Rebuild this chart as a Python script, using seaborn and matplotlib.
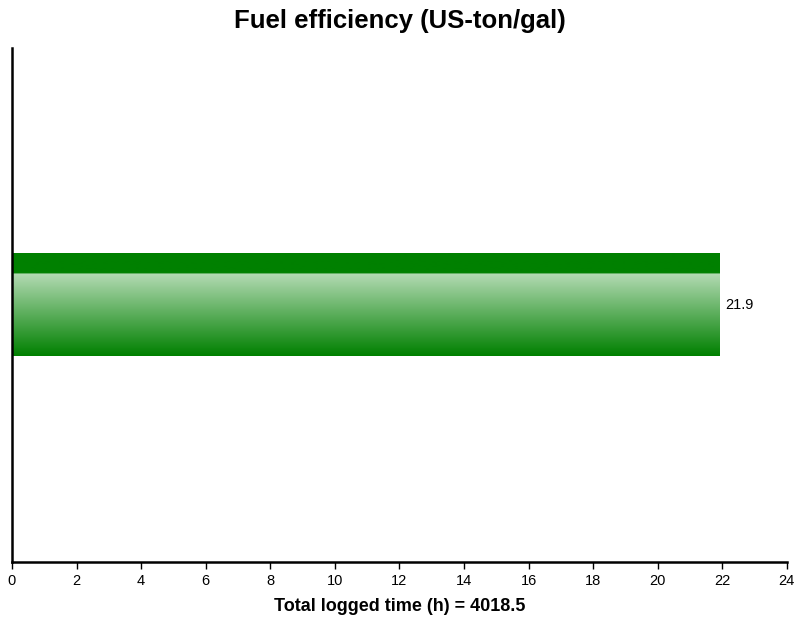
import numpy as np
import pandas as pd
import seaborn as sns
import matplotlib.pyplot as plt
from matplotlib.colors import LinearSegmentedColormap

# данные
categories = ['Fuel efficiency']
values = [21.9]
value_labels = ['21.9']
total_time = '4018.5'
x_ticks = list(range(0, 25, 2))

sns.set_style("white")
plt.rcParams['font.family'] = ['Liberation Sans', 'DejaVu Sans']
plt.rcParams['text.color'] = 'black'
plt.rcParams['axes.labelcolor'] = 'black'

df = pd.DataFrame({'cat': categories, 'val': values})

fig = plt.figure(figsize=(7.98, 6.21), dpi=100)
ax = fig.add_axes([0.015, 0.095, 0.971, 0.828])

sns.barplot(data=df, x='val', y='cat', orient='h', color='#008000', width=0.8, ax=ax)

# градиент внутри столбца
dark = '#008000'
cmap = LinearSegmentedColormap.from_list('g', [(0.0, dark), (0.195, dark), (0.2, '#b3dab3'), (1.0, dark)])
grad = np.linspace(0, 1, 256).reshape(-1, 1)
for patch in ax.patches:
    x0, y0 = patch.get_x(), patch.get_y()
    w, h = patch.get_width(), patch.get_height()
    patch.set_edgecolor('none')
    im = ax.imshow(grad, cmap=cmap, aspect='auto', extent=[x0, x0 + w, y0 + h, y0],
                   origin='upper', zorder=patch.get_zorder() + 0.1, interpolation='bilinear')
    im.set_clip_path(patch)

for i, (v, lab) in enumerate(zip(values, value_labels)):
    ax.text(v + 0.2, i, lab, va='center', ha='left', fontsize=10.5, color='black')

ax.set_xlim(0, 24)
ax.set_ylim(2.0, -2.0)
ax.set_xticks(x_ticks)
ax.set_yticks([])
ax.set_ylabel('')
ax.set_xlabel(f'Total logged time (h) = {total_time}', fontsize=13, fontweight='bold', labelpad=7)
ax.set_title('Fuel efficiency (US-ton/gal)', fontsize=18.5, fontweight='bold', pad=14)
ax.tick_params(axis='x', direction='out', length=5, width=1, colors='black', labelsize=10.5, bottom=True)

for side in ['top', 'right']:
    ax.spines[side].set_visible(False)
for side in ['left', 'bottom']:
    ax.spines[side].set_color('black')
    ax.spines[side].set_linewidth(1.8)

plt.savefig('out.png', dpi=100)
